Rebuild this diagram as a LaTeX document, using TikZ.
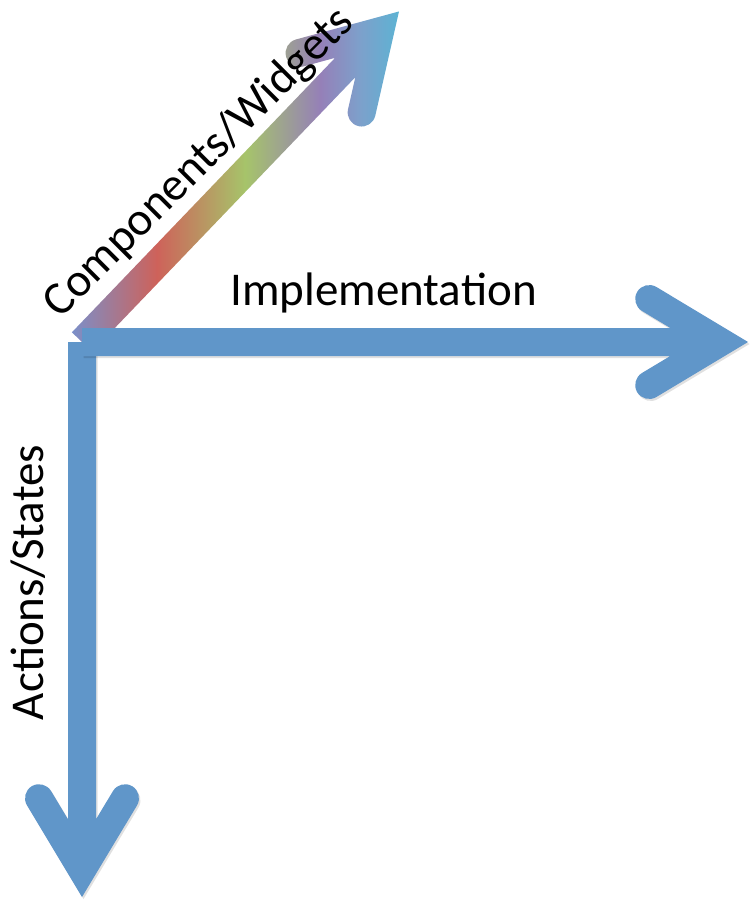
\documentclass[tikz,border=0pt]{standalone}
\usepackage{fontspec}
\setmainfont{Carlito}
\usetikzlibrary{calc}
\definecolor{axblue}{HTML}{6096C9}
\definecolor{rbtail}{HTML}{7B8FC9}
\definecolor{rbred}{HTML}{CE625A}
\definecolor{rbgreen}{HTML}{A6C46A}
\definecolor{rbpurple}{HTML}{9580B8}
\definecolor{rbhead}{HTML}{7DA0CB}
\definecolor{rbtip}{HTML}{5DB3D3}

% rainbow from left to right (path box = 25bp..75bp)
\pgfdeclarehorizontalshading{rainbow}{100bp}{%
  color(0bp)=(rbtail); color(25bp)=(rbtail); color(38bp)=(rbred);
  color(51.5bp)=(rbgreen); color(63bp)=(rbpurple); color(69bp)=(rbhead);
  color(75bp)=(rbtip); color(100bp)=(rbtip)}

% thick shaft with an open chevron head, along x from 0 to #1
\newcommand{\axispath}[1]{%
  (0,14) -- (#1-77.7,14) -- (#1-106,31)
  arc[start angle=239, end angle=59, radius=14] -- (#1,0)
  -- (#1-91.6,-55) arc[start angle=301, end angle=121, radius=14]
  -- (#1-77.7,-14) -- (0,-14) -- cycle}

\begin{document}
\begin{tikzpicture}[
  x=1pt, y=1pt,
  axis/.style={fill=axblue,
    preaction={fill=black, fill opacity=0.12,
      transform canvas={xshift=1.5pt, yshift=-2pt}}},
  lbl/.style={font=\fontsize{47}{50}\selectfont, text=black, inner sep=0pt},
]
  \useasboundingbox (0,0) rectangle (750,-901);

  \coordinate (origin) at (82,-342);

  % diagonal axis, shaded
  \begin{scope}[shift={(origin)}, rotate=46.2]
    \shade[shading=rainbow] \axispath{458};
  \end{scope}

  % vertical axis
  \begin{scope}[shift={(origin)}, rotate=-90]
    \path[axis] \axispath{555};
  \end{scope}

  % horizontal axis
  \begin{scope}[shift={(origin)}]
    \path[axis] \axispath{666};
  \end{scope}

  % labels
  \node[lbl, anchor=base] (impl) at (383.5,-305) {Implementation};
  \node[lbl, anchor=base, rotate=90] (act) at (43,-582.5) {Actions/States};
  \node[lbl, anchor=base, rotate=45] (comp) at (208,-172) {Components/Widgets};

\end{tikzpicture}
\end{document}
